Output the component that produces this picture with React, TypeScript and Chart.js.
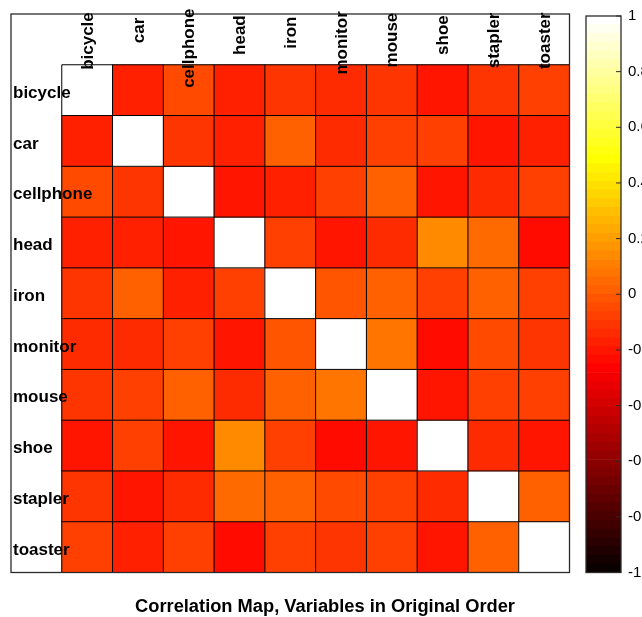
import React, { useEffect, useRef } from "react";
import { Chart, registerables } from "chart.js";

Chart.register(...registerables);

const FONT = '"Liberation Sans", Arial, Helvetica, sans-serif';

const variables = ["bicycle", "car", "cellphone", "head", "iron", "monitor", "mouse", "shoe", "stapler", "toaster"];

const rowBicycle = [1, -0.17, -0.05, -0.17, -0.11, -0.14, -0.11, -0.2, -0.11, -0.08];
const rowCar = [-0.17, 1, -0.11, -0.17, 0.02, -0.14, -0.08, -0.08, -0.2, -0.17];
const rowCellphone = [-0.05, -0.11, 1, -0.2, -0.17, -0.08, 0.02, -0.2, -0.14, -0.08];
const rowHead = [-0.17, -0.17, -0.2, 1, -0.08, -0.2, -0.14, 0.14, 0.05, -0.23];
const rowIron = [-0.11, 0.02, -0.17, -0.08, 1, -0.02, 0.02, -0.08, 0.02, -0.08];
const rowMonitor = [-0.14, -0.14, -0.08, -0.2, -0.02, 1, 0.08, -0.23, -0.05, -0.11];
const rowMouse = [-0.11, -0.08, 0.02, -0.14, 0.02, 0.08, 1, -0.2, -0.08, -0.08];
const rowShoe = [-0.2, -0.08, -0.2, 0.14, -0.08, -0.23, -0.2, 1, -0.14, -0.2];
const rowStapler = [-0.11, -0.2, -0.14, 0.05, 0.02, -0.05, -0.08, -0.14, 1, 0.02];
const rowToaster = [-0.08, -0.17, -0.08, -0.23, -0.08, -0.11, -0.08, -0.2, 0.02, 1];

const correlation = [rowBicycle, rowCar, rowCellphone, rowHead, rowIron, rowMonitor, rowMouse, rowShoe, rowStapler, rowToaster];

const colorbarTicks = [-1, -0.8, -0.6, -0.4, -0.2, 0, 0.2, 0.4, 0.6, 0.8, 1];
const chartTitle = "Correlation Map, Variables in Original Order";
const COLOR_LEVELS = 64;

function clamp01(v: number) {
  return Math.max(0, Math.min(1, v));
}

function hotColor(v: number): string {
  let i = Math.floor(((v + 1) / 2) * COLOR_LEVELS);
  i = Math.max(0, Math.min(COLOR_LEVELS - 1, i));
  const n1 = Math.floor((3 / 8) * COLOR_LEVELS);
  const r = clamp01((i + 1) / n1);
  const g = clamp01((i + 1 - n1) / n1);
  const b = clamp01((i + 1 - 2 * n1) / (COLOR_LEVELS - 2 * n1));
  return `rgb(${Math.round(r * 255)},${Math.round(g * 255)},${Math.round(b * 255)})`;
}

export default function App() {
  const mainRef = useRef<HTMLCanvasElement>(null);
  const barRef = useRef<HTMLCanvasElement>(null);

  useEffect(() => {
    const n = variables.length;

    const heatPlugin = {
      id: "heatDecor",
      afterDatasetsDraw(chart: any) {
        const { ctx, chartArea } = chart;
        const xs = chart.scales.x;
        const ys = chart.scales.y;
        const xb = (k: number) => (xs.getPixelForValue(k - 1) + xs.getPixelForValue(k)) / 2;
        ctx.save();
        // cell grid
        ctx.strokeStyle = "#000";
        ctx.lineWidth = 1;
        const gridTop = ys.getPixelForValue(1);
        const gridLeft = xb(1);
        ctx.beginPath();
        for (let k = 1; k <= n; k++) {
          const px = xb(k);
          ctx.moveTo(px, gridTop);
          ctx.lineTo(px, chartArea.bottom);
          const py = ys.getPixelForValue(k);
          ctx.moveTo(gridLeft, py);
          ctx.lineTo(chartArea.right, py);
        }
        ctx.stroke();
        // frame
        ctx.strokeStyle = "#2b2b2b";
        ctx.lineWidth = 1.3;
        ctx.strokeRect(chartArea.left, chartArea.top, chartArea.right - chartArea.left, chartArea.bottom - chartArea.top);
        // labels
        ctx.fillStyle = "#000";
        ctx.font = `bold 17px ${FONT}`;
        for (let j = 0; j < n; j++) {
          const cx = xs.getPixelForValue(j + 1) + 1;
          const w = ctx.measureText(variables[j]).width;
          const cy = chartArea.top + 8 + 0.33 * w;
          ctx.save();
          ctx.translate(cx, cy);
          ctx.rotate(-Math.PI / 2);
          ctx.textAlign = "center";
          ctx.textBaseline = "middle";
          ctx.fillText(variables[j], 0, 0);
          ctx.restore();
        }
        ctx.textAlign = "left";
        ctx.textBaseline = "middle";
        for (let r = 0; r < n; r++) {
          const cy = (ys.getPixelForValue(r + 1) + ys.getPixelForValue(r + 2)) / 2 + 3;
          ctx.fillText(variables[r], chartArea.left + 2, cy);
        }
        // title
        ctx.font = `bold 18.3px ${FONT}`;
        ctx.textAlign = "center";
        ctx.textBaseline = "alphabetic";
        ctx.fillText(chartTitle, chart.width / 2 + 4, 612);
        ctx.restore();
      },
    };

    const datasets = correlation.map((row, r) => ({
      label: variables[r],
      data: [null, ...row.map(() => [r + 1, r + 2])],
      backgroundColor: ["rgba(0,0,0,0)", ...row.map((v) => hotColor(v))],
      borderWidth: 0,
      grouped: false,
      barPercentage: 1,
      categoryPercentage: 1,
    }));

    const main = new Chart(mainRef.current!, {
      type: "bar",
      data: { labels: ["", ...variables], datasets: datasets as any },
      options: {
        animation: false,
        responsive: false,
        devicePixelRatio: 1,
        layout: { padding: { left: 11, top: 14, right: 72.5, bottom: 44.5 } },
        plugins: { legend: { display: false }, tooltip: { enabled: false }, title: { display: false } },
        scales: {
          x: { type: "category", display: false },
          y: { type: "linear", display: false, min: 0, max: n + 1, reverse: true },
        },
      },
      plugins: [heatPlugin],
    });

    const cbDatasets = Array.from({ length: COLOR_LEVELS }, (_, i) => {
      const lo = -1 + (2 * i) / COLOR_LEVELS;
      const hi = -1 + (2 * (i + 1)) / COLOR_LEVELS;
      return {
        data: [[lo, hi]],
        backgroundColor: hotColor((lo + hi) / 2),
        borderWidth: 0,
        grouped: false,
        barPercentage: 1,
        categoryPercentage: 1,
      };
    });

    const cbPlugin = {
      id: "cbDecor",
      afterDatasetsDraw(chart: any) {
        const { ctx, chartArea } = chart;
        const ys = chart.scales.y;
        ctx.save();
        ctx.strokeStyle = "#2b2b2b";
        ctx.lineWidth = 1;
        ctx.beginPath();
        for (const t of colorbarTicks) {
          const py = ys.getPixelForValue(t);
          ctx.moveTo(chartArea.right - 5, py);
          ctx.lineTo(chartArea.right, py);
        }
        ctx.stroke();
        ctx.lineWidth = 1.3;
        ctx.strokeRect(chartArea.left, chartArea.top, chartArea.right - chartArea.left, chartArea.bottom - chartArea.top);
        ctx.restore();
      },
    };

    const bar = new Chart(barRef.current!, {
      type: "bar",
      data: { labels: [""], datasets: cbDatasets as any },
      options: {
        animation: false,
        responsive: false,
        devicePixelRatio: 1,
        layout: { padding: { left: 26, top: 14, right: 19, bottom: 44.5 } },
        plugins: { legend: { display: false }, tooltip: { enabled: false } },
        scales: {
          x: { type: "category", display: false },
          y: {
            type: "linear",
            position: "right",
            min: -1,
            max: 1,
            afterBuildTicks: (axis: any) => {
              axis.ticks = colorbarTicks.map((value) => ({ value }));
            },
            afterFit: (axis: any) => {
              axis.width = 40;
            },
            grid: { display: false, drawTicks: false },
            border: { display: false },
            ticks: {
              padding: 7,
              color: "#000",
              autoSkip: false,
              font: { family: FONT, size: 15 },
              callback: (v: any) => String(v),
            },
          },
        },
      },
      plugins: [cbPlugin],
    });

    return () => {
      main.destroy();
      bar.destroy();
    };
  }, []);

  return (
    <div style={{ position: "fixed", left: 0, top: 0, width: 642, height: 617, overflow: "hidden", background: "#fff" }}>
      <canvas ref={mainRef} width={642} height={617} style={{ position: "absolute", left: 0, top: 0 }} />
      <canvas ref={barRef} width={120} height={617} style={{ position: "absolute", left: 560, top: 0 }} />
    </div>
  );
}
